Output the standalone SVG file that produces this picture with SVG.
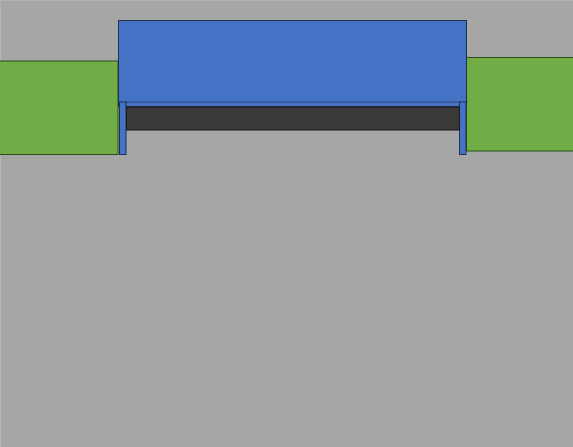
<svg xmlns="http://www.w3.org/2000/svg" width="573" height="447" viewBox="0 0 573 447">
<style>
.bg{fill:#a6a6a6;stroke:#b4b4b4;stroke-width:1}
.green{fill:#70ad47;stroke:#2c4a1c;stroke-width:1}
.blue{fill:#4472c4;stroke:#1f3050;stroke-width:1}
.dark{fill:#3a3838;stroke:#1a1a1a;stroke-width:1}
</style>
<rect class="bg" x="0.5" y="0.5" width="573" height="447"/>
<g id="ground-left"><rect class="green" x="-1" y="61" width="119" height="93.5"/></g>
<g id="ground-right"><rect class="green" x="466.5" y="57.5" width="108" height="93.5"/></g>
<g id="body">
<rect class="blue" x="118.5" y="20.5" width="348" height="86"/>
<line x1="126" y1="102" x2="459" y2="102" stroke="#1f3050" stroke-width="0.6"/>
</g>
<g id="post-left"><rect class="blue" x="119.5" y="102" width="6.5" height="52.5"/></g>
<g id="post-right"><rect class="blue" x="459.5" y="102" width="6.5" height="52.5"/></g>
<g id="slot"><rect class="dark" x="126.5" y="107" width="333" height="23"/></g>
</svg>
